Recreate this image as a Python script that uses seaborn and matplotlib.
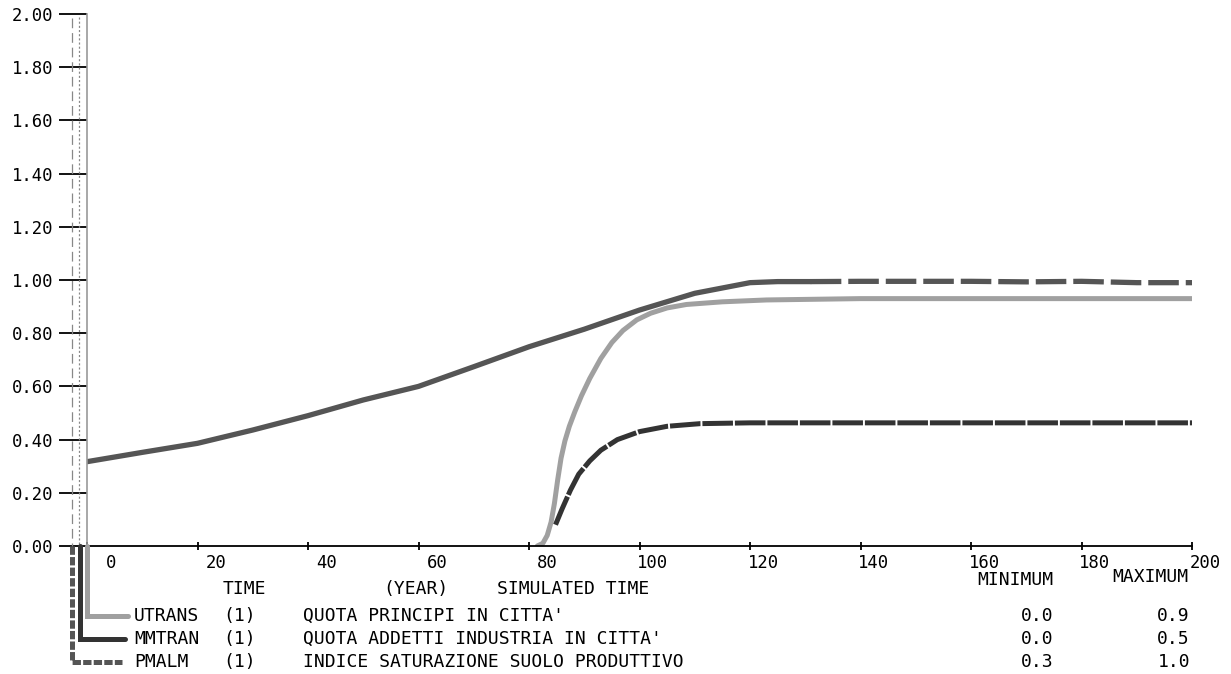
import matplotlib
matplotlib.use("Agg")
import matplotlib.pyplot as plt
import seaborn as sns
import numpy as np
from matplotlib.lines import Line2D
from matplotlib.transforms import ScaledTranslation

# ---------------- data ----------------
time_pmalm = [0, 10, 20, 30, 40, 50, 60, 70, 80, 90, 100, 110, 115, 120, 125, 131,
              140, 150, 160, 170, 180, 190, 200]
pmalm = [0.317, 0.352, 0.386, 0.436, 0.49, 0.549, 0.60, 0.674, 0.749, 0.815, 0.887,
         0.95, 0.97, 0.99, 0.994, 0.994, 0.995, 0.995, 0.995, 0.993, 0.995, 0.99, 0.99]

time_utrans = [81.5, 82.5, 83.3, 84, 84.6, 85.2, 85.8, 86.5, 87.3, 88.3, 89.5, 91, 93,
               95, 97, 99.5, 102, 105, 108.5, 115, 123, 140, 200]
utrans = [0.0, 0.01, 0.04, 0.09, 0.16, 0.25, 0.33, 0.395, 0.45, 0.505, 0.565, 0.63,
          0.705, 0.765, 0.81, 0.85, 0.875, 0.895, 0.908, 0.918, 0.925, 0.93, 0.93]

time_mmtran = [84.8, 86, 87.5, 89, 91, 93, 96, 100, 105, 111, 120, 200]
mmtran = [0.08, 0.14, 0.21, 0.27, 0.32, 0.36, 0.40, 0.43, 0.45, 0.46, 0.463, 0.463]

x_ticks = [0, 20, 40, 60, 80, 100, 120, 140, 160, 180, 200]
y_ticks = [0.0, 0.2, 0.4, 0.6, 0.8, 1.0, 1.2, 1.4, 1.6, 1.8, 2.0]

names = ["UTRANS", "MMTRAN", "PMALM"]
units = ["(1)", "(1)", "(1)"]
descs = ["QUOTA PRINCIPI IN CITTA'", "QUOTA ADDETTI INDUSTRIA IN CITTA'",
         "INDICE SATURAZIONE SUOLO PRODUTTIVO"]
mins = ["0.0", "0.0", "0.3"]
maxs = ["0.9", "0.5", "1.0"]

# ---------------- style ----------------
sns.set_style("white")
plt.rcParams['font.family'] = ['DejaVu Sans Mono', 'DejaVu Sans']
plt.rcParams['lines.scale_dashes'] = False

C_U = "#a0a0a0"
C_M = "#333333"
C_P = "#555555"
LW = 3.6

W, H = 1231, 674
fig = plt.figure(figsize=(W / 100, H / 100), dpi=100)
fig.patch.set_facecolor("white")
ax = fig.add_axes([87 / W, (H - 546) / H, (1192 - 87) / W, (546 - 14) / H])
ax.set_facecolor("white")

def fp(x, y):
    return x / W, 1 - y / H

# ---------------- series ----------------
sns.lineplot(x=time_pmalm[:16], y=pmalm[:16], ax=ax, color=C_P, linewidth=3.8,
             estimator=None, sort=False)
sns.lineplot(x=time_pmalm[15:], y=pmalm[15:], ax=ax, color=C_P, linewidth=3.8,
             estimator=None, sort=False)
ax.lines[-1].set_linestyle((0, (22, 5)))
ax.lines[-1].set_dash_capstyle("butt")

sns.lineplot(x=time_utrans, y=utrans, ax=ax, color=C_U, linewidth=LW,
             estimator=None, sort=False)

sns.lineplot(x=time_mmtran, y=mmtran, ax=ax, color=C_M, linewidth=LW,
             estimator=None, sort=False)
ax.lines[-1].set_linestyle((0, (22, 1.4)))
ax.lines[-1].set_dash_capstyle("butt")

# ---------------- axes ----------------
ax.set_xlim(0, 200)
ax.set_ylim(0, 2)
for s in ["top", "right"]:
    ax.spines[s].set_visible(False)
ax.spines["left"].set_color("#999999")
ax.spines["left"].set_linewidth(1.2)
ax.spines["bottom"].set_color("black")
ax.spines["bottom"].set_linewidth(1.3)

ax.set_yticks(y_ticks)
ax.set_yticklabels([f"{v:.2f}" for v in y_ticks])
ax.tick_params(axis="y", direction="out", length=20, width=1.3, pad=4.3,
               labelsize=12.4, colors="black", left=True)
ax.set_xticks(x_ticks)
ax.set_xticklabels([str(v) for v in x_ticks])
ax.tick_params(axis="x", direction="inout", length=6, width=1.3, pad=3,
               labelsize=12.4, colors="black", bottom=True)
offset = ScaledTranslation(29 / 100, 0, fig.dpi_scale_trans)
for lbl in ax.get_xticklabels():
    lbl.set_horizontalalignment("right")
    lbl.set_transform(lbl.get_transform() + offset)
ax.grid(False)

# guide lines above the axis (dashed / dotted)
fig.add_artist(Line2D(*zip(fp(71.7, 18), fp(71.7, 546)), color="#888888",
                      lw=0.9, linestyle=(0, (7, 3.5)), transform=fig.transFigure))
fig.add_artist(Line2D(*zip(fp(79.3, 17), fp(79.3, 546)), color="#888888",
                      lw=0.9, linestyle=(0, (1.5, 1.5)), transform=fig.transFigure))

# legend connectors below the axis
legend_rows = [616, 639, 662]
conn = [(86.7, 128, C_U, "-"), (79.5, 125, C_M, "-"), (71.7, 121.7, C_P, (0, (6, 1.6)))]
for (xv, xe, col, ls), yr in zip(conn, legend_rows):
    xs, ys = zip(fp(xv, 546), fp(xv, yr), fp(xe, yr))
    fig.add_artist(Line2D(xs, ys, color=col, lw=LW, linestyle=ls,
                          solid_joinstyle="miter", dash_capstyle="butt",
                          transform=fig.transFigure))

# ---------------- texts ----------------
FS = 13.0
def t(x, y, s, ha="left"):
    fig.text(x / W, 1 - y / H, s, ha=ha, va="center", fontsize=FS, color="black")

t(223, 589, "TIME")
t(383, 589, "(YEAR)")
t(497, 589, "SIMULATED TIME")
t(1053, 580, "MINIMUM", ha="right")
t(1188, 577, "MAXIMUM", ha="right")
for i, yr in enumerate(legend_rows):
    t(134, yr, names[i])
    t(223, yr, units[i])
    t(303, yr, descs[i])
    t(1053, yr, mins[i], ha="right")
    t(1190, yr, maxs[i], ha="right")

fig.savefig("out.png", dpi=100, facecolor="white")
